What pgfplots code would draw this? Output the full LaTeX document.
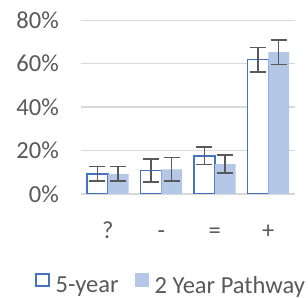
\documentclass[border=0pt]{standalone}
\usepackage{pgfplots}
\pgfplotsset{compat=1.18}
\usepackage{fontspec}
\setmainfont{Carlito}
\definecolor{txt}{HTML}{595959}
\definecolor{grd}{HTML}{D9D9D9}
\definecolor{blu}{HTML}{4472C4}
\definecolor{lblu}{HTML}{B4C7E7}
\begin{document}
\begin{tikzpicture}[x=1bp,y=1bp]
\fontsize{24.5bp}{28bp}\selectfont
\path[use as bounding box] (0,0) rectangle (308,298);
\begin{axis}[
  at={(81bp,104bp)}, anchor=south west,
  scale only axis, width=214bp, height=173.7bp,
  xmin=-0.5, xmax=3.5, ymin=0, ymax=80,
  axis line style={draw=none},
  xtick={0,1,2,3}, xticklabels={{?},{-},{=},{+}},
  ytick={0,20,40,60,80}, yticklabels={0\%,20\%,40\%,60\%,80\%},
  major tick length=0pt,
  ymajorgrids, grid style={grd, line width=1.5bp},
  tick label style={font=\fontsize{24.5bp}{28bp}\selectfont, text=txt},
  yticklabel style={inner sep=0pt, anchor=east, xshift=-22bp},
  xticklabel style={inner sep=0pt, anchor=north, text height=16bp, text depth=0pt, yshift=-28bp},
  bar width=0.39,
  legend columns=2,
  legend style={draw=none, fill=none, at={(axis description cs:-0.215,-0.596)}, anchor=south west,
    font=\fontsize{24.5bp}{28bp}\selectfont, text=txt, inner sep=0pt,
    nodes={inner sep=0pt},
    /tikz/every odd column/.append style={column sep=6bp},
    /tikz/every even column/.append style={column sep=16bp}},
  legend cell align=left,
  error bars/error bar style={txt, line width=1.5bp},
  error bars/error mark options={rotate=90, mark size=8bp, line width=1.5bp, txt},
]
\addplot[ybar, bar shift=0, fill=white, draw=blu, line width=1.5bp,
  legend image code/.code={\draw[fill=white, draw=blu, line width=1.5bp] (0bp,1bp) rectangle (13bp,13bp);},
  error bars/.cd, y dir=both, y explicit]
  coordinates {(-0.195,9.3) +- (0,3.3) (0.805,10.9) +- (0,5.3) (1.805,17.6) +- (0,4.1) (2.805,61.9) +- (0,5.6)};
\addlegendentry{5-year}
\addplot[ybar, bar shift=0, fill=lblu, draw=none,
  legend image code/.code={\fill[lblu] (0bp,0bp) rectangle (14bp,14bp);},
  error bars/.cd, y dir=both, y explicit]
  coordinates {(0.195,9.3) +- (0,3.3) (1.195,11.3) +- (0,5.4) (2.195,13.8) +- (0,4.1) (3.195,65.3) +- (0,5.6)};
\addlegendentry{2 Year Pathway}
\end{axis}
\end{tikzpicture}
\end{document}
